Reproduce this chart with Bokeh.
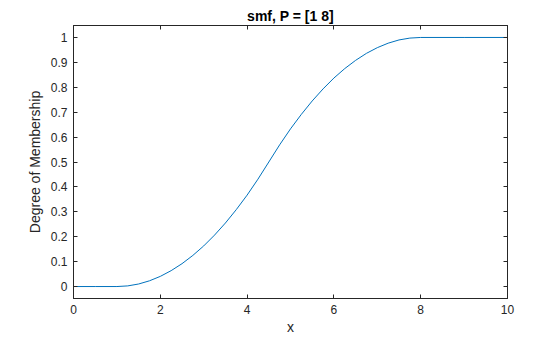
from bokeh.plotting import figure
from bokeh.models import Range1d, FixedTicker, LinearAxis, Title
from bokeh.embed import file_html
from bokeh.resources import INLINE

# Values (smf, a=1, b=8)
x_vals = [0, 0.5, 1.0, 1.25, 1.5, 1.75, 2.0, 2.25, 2.5, 2.75, 3.0, 3.25, 3.5, 3.75,
          4.0, 4.25, 4.5, 4.75, 5.0, 5.25, 5.5, 5.75, 6.0, 6.25, 6.5, 6.75, 7.0,
          7.25, 7.5, 7.75, 8.0, 9.0, 10.0]
y_vals = [0, 0, 0, 0.0026, 0.0102, 0.0230, 0.0408, 0.0638, 0.0918, 0.125, 0.163,
          0.2066, 0.255, 0.3087, 0.367, 0.4311, 0.5, 0.5689, 0.633, 0.6913, 0.745,
          0.7934, 0.837, 0.875, 0.908, 0.9362, 0.959, 0.977, 0.990, 0.99745, 1.0,
          1.0, 1.0]
x_ticks = [0, 2, 4, 6, 8, 10]
y_ticks = [0, 0.1, 0.2, 0.3, 0.4, 0.5, 0.6, 0.7, 0.8, 0.9, 1]
y_tick_labels = ["0", "0.1", "0.2", "0.3", "0.4", "0.5", "0.6", "0.7", "0.8", "0.9", "1"]

FONT = "Liberation Sans"
AX = "#262626"

p = figure(width=560, height=337, output_backend="svg", toolbar_location=None,
           x_range=Range1d(0, 10), y_range=Range1d(-0.048, 1.048),
           min_border_left=73, min_border_right=53, min_border_top=25, min_border_bottom=39,
           frame_width=434, frame_height=273)
p.background_fill_color = "white"
p.border_fill_color = "white"
p.outline_line_color = AX
p.outline_line_width = 1
p.grid.visible = False

p.title = Title(text="smf, P = [1 8]", align="center", text_font=FONT,
                text_font_size="14px", text_font_style="bold", text_color="black",
                offset=0, standoff=3)

p.line(x_vals, y_vals, line_color="#0072BD", line_width=1)

def style(ax, labels=True):
    ax.axis_line_color = AX
    ax.major_tick_line_color = AX
    ax.major_tick_in = 4
    ax.major_tick_out = 0
    ax.minor_tick_line_color = None
    ax.major_label_text_font = FONT
    ax.major_label_text_font_size = "12px"
    ax.major_label_text_color = AX
    ax.axis_label_text_font = FONT
    ax.axis_label_text_font_size = "14px"
    ax.axis_label_text_font_style = "normal"
    ax.axis_label_text_color = AX
    if not labels:
        ax.major_label_text_color = None
        ax.major_label_text_font_size = "0px"
        ax.major_label_standoff = 0

p.xaxis.ticker = FixedTicker(ticks=x_ticks)
p.yaxis.ticker = FixedTicker(ticks=y_ticks)
p.yaxis.major_label_overrides = {t: l for t, l in zip(y_ticks, y_tick_labels)}
p.xaxis.axis_label = "x"
p.yaxis.axis_label = "Degree of Membership"
style(p.xaxis[0])
style(p.yaxis[0])
p.xaxis.major_label_standoff = 6
p.yaxis.major_label_standoff = 6
p.xaxis.axis_label_standoff = 2
p.yaxis.axis_label_standoff = 5

top = LinearAxis(ticker=FixedTicker(ticks=x_ticks))
right = LinearAxis(ticker=FixedTicker(ticks=y_ticks))
style(top, labels=False)
style(right, labels=False)
p.add_layout(top, "above")
p.add_layout(right, "right")

open("out.html", "w").write(file_html(p, INLINE))
